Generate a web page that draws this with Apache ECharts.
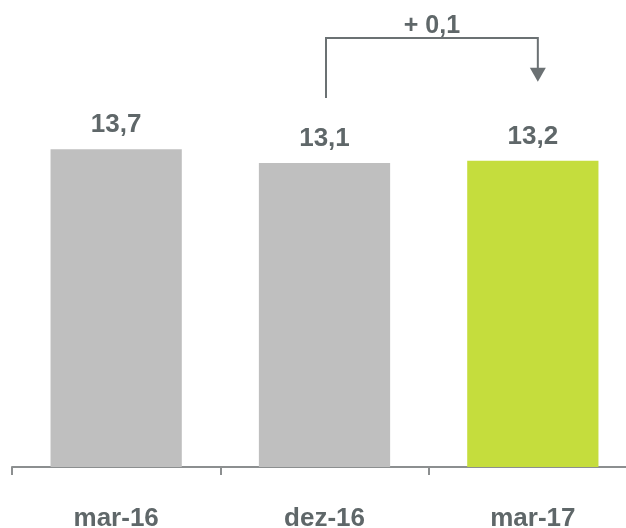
<!DOCTYPE html>
<html>
<head>
<meta charset="utf-8">
<script src="https://cdn.jsdelivr.net/npm/echarts@6/dist/echarts.min.js"></script>
<style>
  html, body { margin: 0; padding: 0; background: #fff; overflow: hidden; }
  #chart { width: 626px; height: 528px; }
</style>
</head>
<body>
<div id="chart"></div>
<script>
// Periods and values shown on the chart
const categories = ['mar-16', 'dez-16', 'mar-17'];
const values = [13.7, 13.1, 13.2];
const barColors = ['#bfbfbf', '#bfbfbf', '#c5dd3d'];

const TEXT = '#5f6769';
const FONT = '"Liberation Sans", Arial, sans-serif';
const fmt = v => v.toFixed(1).replace('.', ',');

const chart = echarts.init(document.getElementById('chart'));

chart.setOption({
  animation: false,
  // the plot runs past the right edge so the last tick falls outside the canvas
  grid: { left: 12, width: 625, top: 119, bottom: 61, containLabel: false, outerBoundsMode: 'none' },
  xAxis: {
    type: 'category',
    data: categories,
    axisLine: { show: true, lineStyle: { color: '#8c8f90', width: 2 } },
    axisTick: { show: true, interval: 0, length: 8, lineStyle: { color: '#8c8f90', width: 2 } },
    axisLabel: {
      color: TEXT, fontFamily: FONT,
      fontWeight: 'bold', fontSize: 26, margin: 39
    }
  },
  yAxis: {
    type: 'value', min: 0, max: 15,
    show: false, splitLine: { show: false }
  },
  series: [{
    type: 'bar',
    barWidth: '63%',
    data: values.map((v, i) => ({ value: v, itemStyle: { color: barColors[i] } })),
    label: {
      show: true, position: 'top', distance: 11,
      color: TEXT, fontFamily: FONT,
      fontWeight: 'bold', fontSize: 26,
      formatter: p => fmt(p.value)
    }
  }]
});

// Change annotation between the last two periods
function drawChange() {
  const from = 1, to = 2;
  const delta = values[to] - values[from];
  const x1 = chart.convertToPixel({ xAxisIndex: 0 }, categories[from]) + 1.5;
  const x2 = chart.convertToPixel({ xAxisIndex: 0 }, categories[to]) + 5;
  const topFrom = chart.convertToPixel({ yAxisIndex: 0 }, values[from]);
  const topTo = chart.convertToPixel({ yAxisIndex: 0 }, values[to]);
  const yStart = topFrom - 65;
  const yBar = 38;
  const yTip = topTo - 79;
  const color = '#6b7173';
  chart.setOption({
    graphic: [
      {
        type: 'polyline', silent: true,
        shape: { points: [[x1, yStart], [x1, yBar], [x2, yBar], [x2, yTip - 12]] },
        style: { stroke: color, lineWidth: 2, fill: null }
      },
      {
        type: 'polygon', silent: true,
        shape: { points: [[x2 - 8, yTip - 14], [x2 + 8, yTip - 14], [x2, yTip]] },
        style: { fill: color }
      },
      {
        type: 'text', x: (x1 + x2) / 2, y: yBar - 12,
        style: {
          text: (delta >= 0 ? '+ ' : '- ') + fmt(Math.abs(delta)),
          fill: TEXT, font: 'bold 25px ' + FONT,
          textAlign: 'center', textVerticalAlign: 'middle'
        }
      }
    ]
  });
}
drawChange();
</script>
</body>
</html>
